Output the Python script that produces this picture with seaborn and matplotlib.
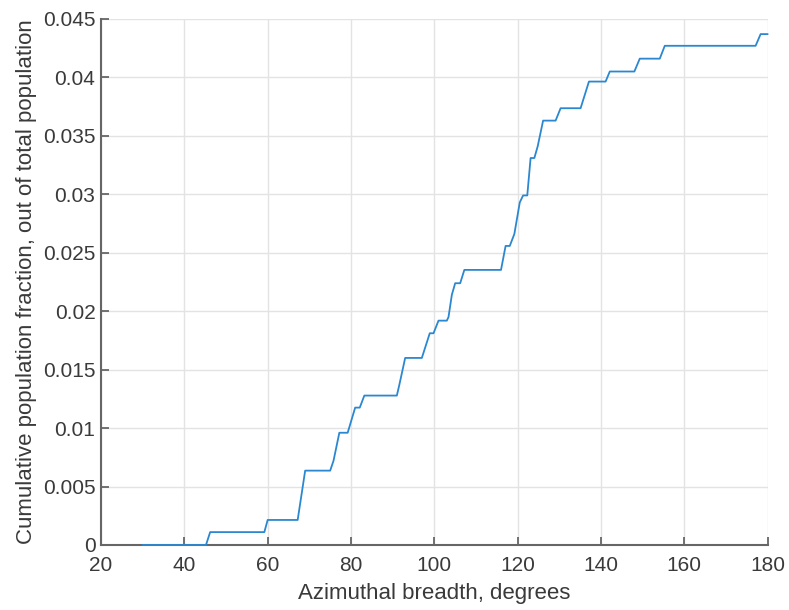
import matplotlib
matplotlib.use("Agg")
import matplotlib.pyplot as plt
import seaborn as sns
import numpy as np
from matplotlib.ticker import FuncFormatter

# Breakpoints of the cumulative curve
breadth_deg = [30, 45.2, 46.2, 59.2, 60.0, 67.2, 69.0, 75.0, 75.8, 77.2, 79.2, 81.0,
               82.1, 83.2, 91.0, 91.6, 93.0, 97.0, 98.9, 99.8, 101.0, 103.0, 103.4,
               104.2, 105.0, 106.2, 107.2, 116.0, 117.1, 118.1, 119.2, 120.5, 121.3,
               122.3, 123.1, 124.0, 124.8, 126.1, 129.1, 130.3, 135.1, 137.1, 141.1,
               142.1, 148.0, 149.3, 154.1, 155.3, 177.1, 178.3, 180]
cum_fraction = [0, 0, 0.0011, 0.0011, 0.00214, 0.00214, 0.00636, 0.00636, 0.0072,
                0.0096, 0.0096, 0.01175, 0.01175, 0.01278, 0.01278, 0.0137, 0.0160,
                0.0160, 0.01811, 0.01811, 0.01919, 0.01919, 0.0195, 0.0214, 0.02239,
                0.02239, 0.02353, 0.02353, 0.02558, 0.02558, 0.0266, 0.0293, 0.0299,
                0.0299, 0.0331, 0.0331, 0.0341, 0.0363, 0.0363, 0.03736, 0.03736,
                0.03964, 0.03964, 0.0405, 0.0405, 0.0416, 0.0416, 0.0427, 0.0427,
                0.0437, 0.0437]
x_ticks = [20, 40, 60, 80, 100, 120, 140, 160, 180]
y_ticks = [0, 0.005, 0.01, 0.015, 0.02, 0.025, 0.03, 0.035, 0.04, 0.045]

sns.set_style("whitegrid")
plt.rcParams['font.family'] = ['Liberation Sans', 'DejaVu Sans']

fig = plt.figure(figsize=(7.89, 6.10), dpi=100)
ax = fig.add_axes([0.128, 0.1066, 0.973 - 0.128, 0.969 - 0.1066])

sns.lineplot(x=breadth_deg, y=cum_fraction, sort=False, estimator=None,
             color="#2b88d0", linewidth=1.3, ax=ax, zorder=3, clip_on=False)

ax.set_xlim(20, 180)
ax.set_ylim(0, 0.045)
ax.set_xticks(x_ticks)
ax.set_yticks(y_ticks)
ax.yaxis.set_major_formatter(FuncFormatter(lambda v, p: f"{v:g}"))

ax.grid(True, color="#e3e3e3", linewidth=1.0)
ax.set_axisbelow(True)
for s in ["top", "right"]:
    ax.spines[s].set_visible(False)
for s in ["left", "bottom"]:
    ax.spines[s].set_visible(True)
    ax.spines[s].set_color("#666666")
    ax.spines[s].set_linewidth(1.5)

ax.tick_params(direction="in", length=6, width=1.3, color="#666666",
               labelsize=15, labelcolor="#3a3a3a", left=True, bottom=True)
ax.tick_params(axis="x", pad=8)
ax.tick_params(axis="y", pad=4)

ax.set_xlabel("Azimuthal breadth, degrees", fontsize=16, color="#3a3a3a", labelpad=6)
ax.set_ylabel("Cumulative population fraction, out of total population",
              fontsize=16, color="#3a3a3a", labelpad=4)

fig.savefig("out.png", dpi=100, facecolor="white")
